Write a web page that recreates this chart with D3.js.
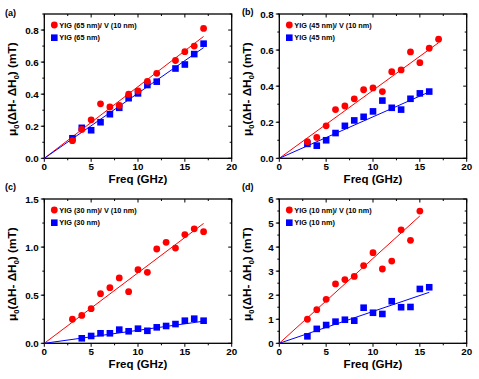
<!DOCTYPE html>
<html>
<head>
<meta charset="utf-8">
<script src="https://cdn.jsdelivr.net/npm/d3@7"></script>
<style>
  body { margin: 0; background: #fff; }
  text { font-family: "Liberation Sans", Arial, sans-serif; font-weight: bold; fill: #000; }
</style>
</head>
<body>
<script>
// frequencies (GHz)
var freqA = [3, 4, 5, 6, 7, 8, 9, 10, 11, 12, 14, 15, 16, 17]
var freqB = [3, 4, 5, 6, 7, 8, 9, 10, 11, 12, 13, 14, 15, 16, 17]
var freqC = [3, 4, 5, 6, 7, 8, 9, 10, 11, 12, 13, 14, 15, 16, 17]
var freqD = [3, 4, 5, 6, 7, 8, 9, 10, 11, 12, 13, 14, 15, 16]

// (a) 65 nm
var redA = [0.11, 0.18, 0.24, 0.34, 0.32, 0.33, 0.40, 0.42, 0.48, 0.53, 0.61, 0.665, 0.70, 0.81]
var blueA = [0.125, 0.19, 0.175, 0.225, 0.275, 0.315, 0.375, 0.405, 0.457, 0.478, 0.56, 0.585, 0.65, 0.715]
// (b) 45 nm
var redB = [0.092, 0.116, 0.18, 0.27, 0.29, 0.33, 0.38, 0.39, 0.37, 0.48, 0.49, 0.59, 0.53, 0.61, 0.66]
var blueB = [0.08, 0.07, 0.10, 0.14, 0.18, 0.21, 0.23, 0.26, 0.32, 0.28, 0.27, 0.33, 0.36, 0.37]
// (c) 30 nm (blue starts at 4 GHz)
var redC = [0.25, 0.29, 0.36, 0.516, 0.578, 0.68, 0.537, 0.765, 0.738, 0.98, 1.05, 0.99, 1.13, 1.19, 1.16]
var blueC = [null, 0.052, 0.076, 0.104, 0.104, 0.142, 0.125, 0.152, 0.13, 0.166, 0.18, 0.20, 0.235, 0.256, 0.235]
// (d) 10 nm (red stops at 15 GHz)
var redD = [1.0, 1.4, 1.83, 2.47, 2.65, 2.78, 3.23, 3.77, 3.09, 3.42, 4.72, 4.28, 5.5, null]
var blueD = [0.29, 0.6, 0.76, 0.9, 0.98, 0.94, 1.48, 1.27, 1.22, 1.75, 1.5, 1.51, 2.26, 2.33]

// linear fits through origin: [slope, last freq]
var fitRed = [[0.0447, 17], [0.0377, 17], [0.0733, 17], [0.353, 15]]
var fitBlue = [[0.0406, 17], [0.023, 16], [0.0135, 17], [0.1325, 16]]

var yMax = [0.9, 0.8, 1.5, 6]
var yStep = [0.2, 0.2, 0.5, 1]
var yFmt = [".1f", ".1f", ".1f", "d"]
var thick = ["65", "45", "30", "10"]
var letters = ["(a)", "(b)", "(c)", "(d)"]

var W = 479, H = 379
var svg = d3.select("body").append("svg").attr("width", W).attr("height", H)

var boxes = [
  {x0: 44.3, x1: 231.7, y0: 14, y1: 158.3, lx: 5, ly: 15.5},
  {x0: 279.3, x1: 466.7, y0: 14, y1: 158.3, lx: 242, ly: 15},
  {x0: 44.3, x1: 231.7, y0: 199, y1: 343.3, lx: 5, ly: 190},
  {x0: 279.3, x1: 466.7, y0: 199, y1: 343.3, lx: 242, ly: 190}
]
var freqs = [freqA, freqB, freqC, freqD]
var reds = [redA, redB, redC, redD]
var blues = [blueA, blueB, blueC, blueD]

boxes.forEach(function(b, i) {
  drawPanel(b, i)
})

function drawPanel(b, i) {
  var x = d3.scaleLinear().domain([0, 20]).range([b.x0, b.x1])
  var y = d3.scaleLinear().domain([0, yMax[i]]).range([b.y1, b.y0])
  var g = svg.append("g")

  var yTicks = d3.range(0, yMax[i] + 1e-9, yStep[i])
  var yMinor = d3.range(0, yMax[i] + 1e-9, yStep[i] / 2)
  var xTicks = d3.range(0, 20.01, 5)
  var xMinor = d3.range(0, 20.01, 2.5)

  // ticks: outward on left/bottom, inward on top/right
  g.selectAll(".ymin").data(yMinor).enter().append("line")
    .attr("x1", b.x0 - 2).attr("x2", b.x0)
    .attr("y1", y).attr("y2", y)
    .attr("stroke", "#000").attr("stroke-width", 1)
  g.selectAll(".ymaj").data(yTicks).enter().append("line")
    .attr("x1", b.x0 - 3.5).attr("x2", b.x0)
    .attr("y1", y).attr("y2", y)
    .attr("stroke", "#000").attr("stroke-width", 1)
  g.selectAll(".yr").data(yMinor).enter().append("line")
    .attr("x1", b.x1).attr("x2", function(d, k) { return b.x1 - (k % 2 ? 2 : 3.5) })
    .attr("y1", y).attr("y2", y)
    .attr("stroke", "#000").attr("stroke-width", 1)
  g.selectAll(".xb").data(xMinor).enter().append("line")
    .attr("x1", x).attr("x2", x)
    .attr("y1", b.y1).attr("y2", function(d, k) { return b.y1 + (k % 2 ? 2 : 3.5) })
    .attr("stroke", "#000").attr("stroke-width", 1)
  g.selectAll(".xt").data(xMinor).enter().append("line")
    .attr("x1", x).attr("x2", x)
    .attr("y1", b.y0).attr("y2", function(d, k) { return b.y0 + (k % 2 ? 2 : 3.5) })
    .attr("stroke", "#000").attr("stroke-width", 1)

  g.append("rect")
    .attr("x", b.x0).attr("y", b.y0)
    .attr("width", b.x1 - b.x0).attr("height", b.y1 - b.y0)
    .attr("fill", "none").attr("stroke", "#000").attr("stroke-width", 1.3)

  g.selectAll(".yl").data(yTicks).enter().append("text")
    .attr("x", b.x0 - 5.5).attr("y", function(d) { return y(d) + 3.5 })
    .attr("text-anchor", "end").style("font-size", "9.8px")
    .text(d3.format(yFmt[i]))
  g.selectAll(".xl").data(xTicks).enter().append("text")
    .attr("x", x).attr("y", b.y1 + 12)
    .attr("text-anchor", "middle").style("font-size", "9.8px")
    .text(d3.format("d"))

  g.append("text")
    .attr("x", (b.x0 + b.x1) / 2).attr("y", b.y1 + 25)
    .attr("text-anchor", "middle").style("font-size", "11.5px")
    .text("Freq (GHz)")

  var yl = g.append("text")
    .attr("transform", "translate(" + (b.x0 - 28) + "," + ((b.y0 + b.y1) / 2 + 3) + ") rotate(-90)")
    .attr("text-anchor", "middle").style("font-size", "11.8px")
  yl.append("tspan").text("μ")
  yl.append("tspan").attr("dy", 3).style("font-size", "7.5px").text("0")
  yl.append("tspan").attr("dy", -3).text("(ΔH- ΔH")
  yl.append("tspan").attr("dy", 3).style("font-size", "7.5px").text("0")
  yl.append("tspan").attr("dy", -3).text(") (mT)")

  g.append("text").attr("x", b.lx).attr("y", b.ly)
    .style("font-size", "9px").text(letters[i])

  // fit lines
  var fits = [[fitRed[i], "#ff0000"], [fitBlue[i], "#0000ff"]]
  fits.forEach(function(f) {
    g.append("line")
      .attr("x1", x(0)).attr("y1", y(0))
      .attr("x2", x(f[0][1])).attr("y2", y(f[0][0] * f[0][1]))
      .attr("stroke", f[1]).attr("stroke-width", 1)
  })

  var fr = freqs[i]
  var bluePts = fr.map(function(f, k) { return [f, blues[i][k]] })
    .filter(function(p) { return p[1] != null })
  var redPts = fr.map(function(f, k) { return [f, reds[i][k]] })
    .filter(function(p) { return p[1] != null })

  g.selectAll(".sq").data(bluePts).enter().append("rect")
    .attr("x", function(d) { return x(d[0]) - 3.3 })
    .attr("y", function(d) { return y(d[1]) - 3.3 })
    .attr("width", 6.6).attr("height", 6.6)
    .attr("fill", "#0000ff")
  g.selectAll(".ci").data(redPts).enter().append("circle")
    .attr("cx", function(d) { return x(d[0]) })
    .attr("cy", function(d) { return y(d[1]) })
    .attr("r", 3.4)
    .attr("fill", "#ff0000")

  // legend
  var lx = b.x0 + 10, ly = b.y0 + 11
  g.append("circle").attr("cx", lx).attr("cy", ly).attr("r", 3.4).attr("fill", "#ff0000")
  g.append("rect").attr("x", lx - 3.3).attr("y", ly + 12.7 - 3.3)
    .attr("width", 6.6).attr("height", 6.6).attr("fill", "#0000ff")
  g.append("text").attr("x", lx + 5).attr("y", ly + 2.6)
    .style("font-size", "7.3px").text("YIG (" + thick[i] + " nm)/ V (10 nm)")
  g.append("text").attr("x", lx + 5).attr("y", ly + 12.7 + 2.6)
    .style("font-size", "7.3px").text("YIG (" + thick[i] + " nm)")
}
</script>
</body>
</html>
